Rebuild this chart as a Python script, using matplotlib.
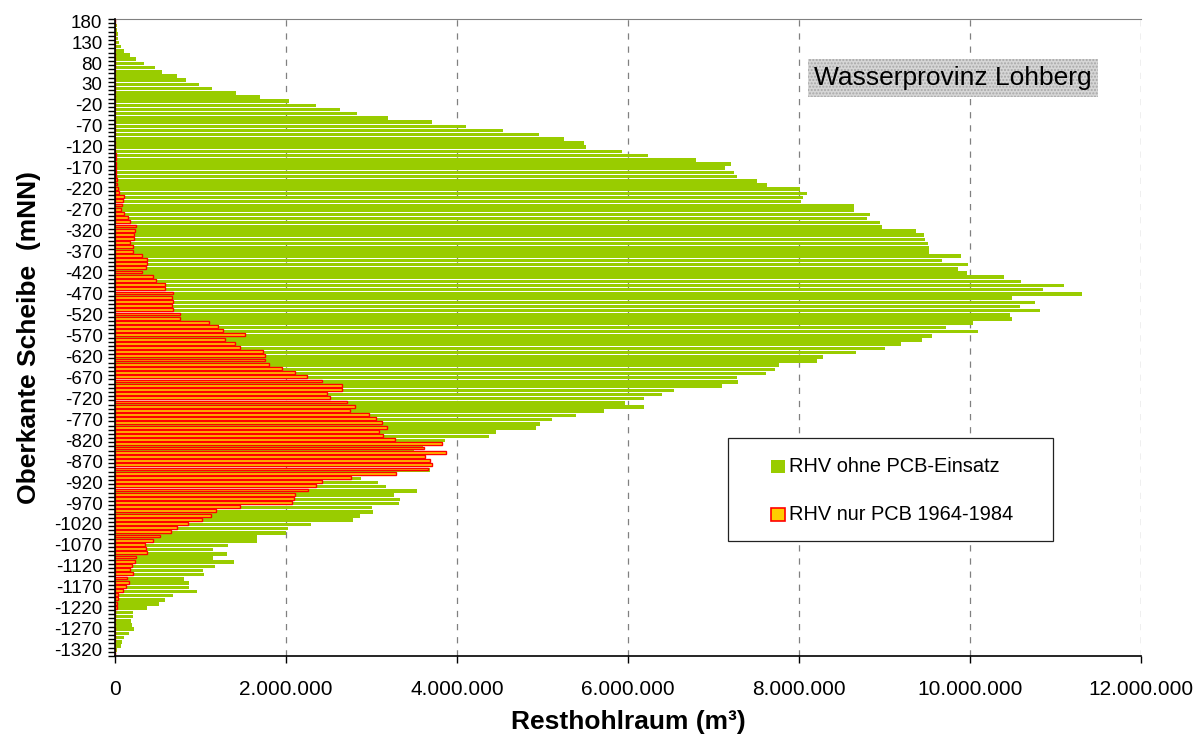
import numpy as np
import matplotlib.pyplot as plt
from matplotlib.patches import Rectangle
from matplotlib.ticker import FuncFormatter, MultipleLocator, FixedLocator

plt.rcParams["font.family"] = ["Liberation Sans", "DejaVu Sans"]
plt.rcParams["axes.unicode_minus"] = False

# Oberkante der 10-m-Scheiben (mNN), von oben nach unten
oberkante = 180 - 10 * np.arange(152)

# Resthohlraum je Scheibe in Mio. m³
rhv_ohne_pcb = [
    0.01, 0.02, 0.02, 0.03, 0.04, 0.05, 0.07, 0.11, 0.17, 0.25,
    0.34, 0.47, 0.55, 0.725, 0.83, 0.98, 1.135, 1.42, 1.70, 2.04,
    2.35, 2.63, 2.83, 3.19, 3.71, 4.11, 4.54, 4.96, 5.25, 5.48,
    5.51, 5.93, 6.23, 6.80, 7.21, 7.14, 7.24, 7.28, 7.51, 7.62,
    8.01, 8.09, 8.05, 8.02, 8.64, 8.64, 8.83, 8.80, 8.95, 8.97,
    9.37, 9.46, 9.47, 9.51, 9.52, 9.52, 9.90, 9.67, 9.98, 9.86,
    9.96, 10.40, 10.60, 11.10, 10.85, 11.31, 10.49, 10.76, 10.58, 10.82,
    10.47, 10.49, 10.04, 9.72, 10.09, 9.56, 9.44, 9.19, 9.01, 8.67,
    8.28, 8.21, 7.77, 7.72, 7.61, 7.27, 7.29, 7.10, 6.54, 6.40,
    6.19, 5.96, 6.19, 5.72, 5.39, 5.11, 4.97, 4.92, 4.46, 4.38,
    3.86, 3.60, 3.50, 3.30, 3.40, 3.50, 3.60, 3.69, 3.12, 2.88,
    3.08, 3.17, 3.53, 3.26, 3.33, 3.32, 3.01, 3.02, 2.87, 2.78,
    2.29, 2.02, 2.00, 1.66, 1.66, 1.32, 1.15, 1.31, 1.15, 1.39,
    1.17, 1.03, 1.04, 0.81, 0.87, 0.87, 0.96, 0.68, 0.59, 0.51,
    0.37, 0.21, 0.21, 0.19, 0.195, 0.22, 0.16, 0.11, 0.085, 0.066,
    0.027, 0.0,
]

rhv_nur_pcb = [
    0, 0, 0, 0, 0, 0, 0, 0, 0, 0,
    0, 0, 0, 0, 0, 0, 0, 0, 0, 0,
    0, 0, 0, 0, 0, 0, 0, 0, 0, 0,
    0, 0, 0.01, 0.01, 0.01, 0.01, 0.015, 0.015, 0.02, 0.02,
    0.03, 0.05, 0.105, 0.09, 0.08, 0.07, 0.105, 0.15, 0.18, 0.24,
    0.23, 0.22, 0.22, 0.18, 0.21, 0.21, 0.32, 0.38, 0.38, 0.36,
    0.32, 0.45, 0.48, 0.58, 0.58, 0.68, 0.67, 0.68, 0.67, 0.68,
    0.76, 0.76, 1.10, 1.21, 1.26, 1.52, 1.29, 1.40, 1.46, 1.73,
    1.75, 1.76, 1.80, 1.95, 2.10, 2.25, 2.42, 2.65, 2.65, 2.48,
    2.52, 2.71, 2.81, 2.75, 2.97, 3.05, 3.12, 3.18, 3.09, 3.14,
    3.28, 3.83, 3.61, 3.87, 3.63, 3.68, 3.71, 3.66, 3.29, 2.76,
    2.42, 2.35, 2.26, 2.11, 2.09, 2.07, 1.46, 1.18, 1.12, 1.02,
    0.85, 0.72, 0.655, 0.53, 0.45, 0.35, 0.36, 0.38, 0.25, 0.23,
    0.20, 0.17, 0.21, 0.14, 0.16, 0.125, 0.09, 0.04, 0.03, 0.02,
    0.02, 0, 0, 0, 0, 0, 0, 0, 0, 0,
    0, 0,
]

ohne_pcb = np.array(rhv_ohne_pcb) * 1e6
nur_pcb = np.array(rhv_nur_pcb) * 1e6

GRUEN = "#99CC00"
GOLD = "#FFCC00"
ROT = "#FF0000"

W, H = 1204, 740
fig = plt.figure(figsize=(W / 100, H / 100), dpi=100)
ax = fig.add_axes([115 / W, (H - 656) / H, 1026 / W, 637 / H])

# zwei Serien, leicht versetzt innerhalb jeder Scheibe
ax.barh(oberkante - 1.0, ohne_pcb, height=8.4, color=GRUEN, edgecolor="none", zorder=2)
ax.barh(oberkante + 1.2, nur_pcb, height=6.8, color=GOLD, edgecolor=ROT,
        linewidth=1.0, zorder=3)

ax.set_xlim(0, 12e6)
ax.set_ylim(-1335, 185)

# x-Achse
ax.xaxis.set_major_locator(MultipleLocator(2e6))
ax.xaxis.set_major_formatter(FuncFormatter(lambda v, p: f"{int(v):,}".replace(",", ".")))
ax.tick_params(axis="x", direction="out", length=5, width=1, labelsize=15, pad=12)
ax.grid(axis="x", color="#808080", linestyle=(0, (5, 5.5)), linewidth=0.9, zorder=1)

# y-Achse: Beschriftung jede 5. Scheibe, Striche zwischen den Scheiben
ax.yaxis.set_major_locator(FixedLocator(np.arange(180, -1321, -50)))
ax.yaxis.set_minor_locator(FixedLocator(185 - 10 * np.arange(153)))
ax.tick_params(axis="y", which="major", length=0, labelsize=13.5, pad=9)
ax.tick_params(axis="y", which="minor", direction="out", length=5, width=1)

for side in ("left", "bottom"):
    ax.spines[side].set_linewidth(1.2)
    ax.spines[side].set_zorder(4)
ax.spines["top"].set_color("#808080")
ax.spines["top"].set_linewidth(0.8)
ax.spines["right"].set_visible(False)

ax.set_xlabel("Resthohlraum (m³)", fontsize=19, fontweight="bold")
ax.xaxis.set_label_coords(0.5, -0.085)
ax.set_ylabel("Oberkante Scheibe  (mNN)", fontsize=19, fontweight="bold")
ax.yaxis.set_label_coords(-0.072, 0.5)

# Kasten mit Gebietsname, grau gepunktet
fig.text(953 / W, 1 - 78 / H, "Wasserprovinz Lohberg", fontsize=19,
         ha="center", va="center",
         bbox=dict(boxstyle="square,pad=0.25", facecolor="#D6D6D6",
                   edgecolor="#A8A8A8", linewidth=0, hatch="....."))

# Legende von Hand gesetzt
fig.add_artist(Rectangle((728 / W, 1 - 541 / H), 325 / W, 103 / H,
                         transform=fig.transFigure, facecolor="white",
                         edgecolor="#222222", linewidth=0.9, zorder=5))
eintraege = [("RHV ohne PCB-Einsatz", GRUEN, "none", 466),
             ("RHV nur PCB 1964-1984", GOLD, ROT, 514)]
for text, fc, ec, yc in eintraege:
    fig.add_artist(Rectangle((771 / W, 1 - (yc + 6.5) / H), 14 / W, 13 / H,
                             transform=fig.transFigure, facecolor=fc,
                             edgecolor=ec, linewidth=1.2, zorder=6))
    fig.text(789 / W, 1 - yc / H, text, fontsize=14.4, ha="left", va="center", zorder=7)

fig.savefig("out.png", dpi=100)
